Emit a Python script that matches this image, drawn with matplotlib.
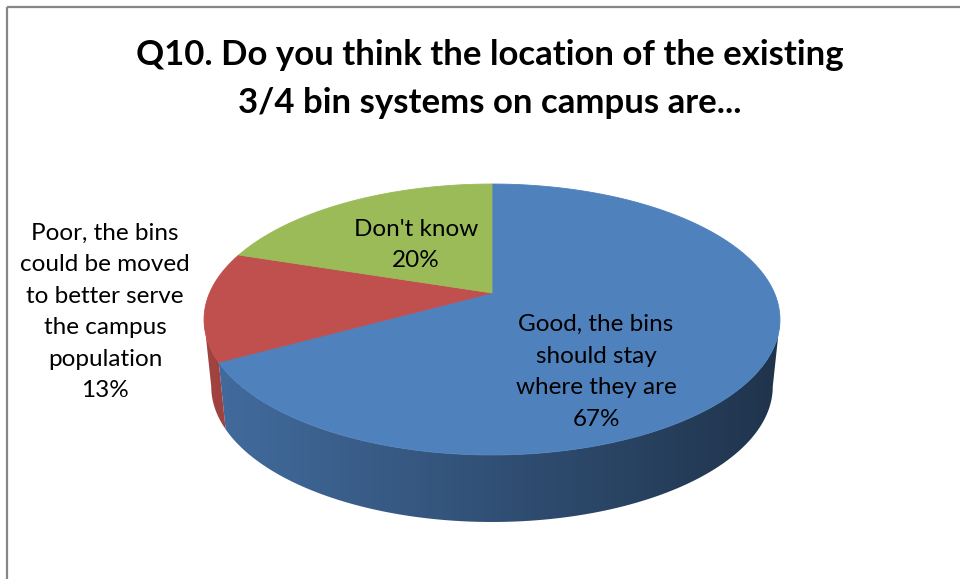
import numpy as np
import matplotlib
matplotlib.use('Agg')
import matplotlib.pyplot as plt
from matplotlib.patches import Polygon, Rectangle
from matplotlib.colors import to_rgb

title = 'Q10. Do you think the location of the existing\n3/4 bin systems on campus are...'
labels = ['Good, the bins\nshould stay\nwhere they are',
          'Poor, the bins\ncould be moved\nto better serve\nthe campus\npopulation',
          "Don't know"]
shares = [67, 13, 20]
colors = ['#4f81bd', '#c0504d', '#9bbb59']
labelPos = [(596, 372), (105, 312), (416, 245)]

W, H = 960, 579
# tilted disk seen in perspective, everything in pixel units
cx, cy = 492, 293
A, B, k = 282.4, 130.3, 0.1956
depth = 67
shrink = 0.975
frontHi, frontLo = -11.3, -168.7   # silhouette angles (deg)

def proj(deg):
    t = np.radians(deg)
    u, v = np.cos(t), np.sin(t)
    d = 1 + k*v
    return cx + A*u/d, cy - B*v/d

def arc(a0, a1, n=200):
    xs, ys = proj(np.linspace(a0, a1, n))
    return np.column_stack([xs, ys])

fig = plt.figure(figsize=(W/100, H/100), dpi=100)
ax = fig.add_axes([0, 0, 1, 1])
ax.axis('off')

# angles, clockwise from 12 o'clock
bounds = 90 - 360*np.cumsum([0] + shares)/sum(shares)

xl, xr = cx - A*1.02, cx + A*1.02
for i, col in enumerate(colors):
    start, end = bounds[i], bounds[i+1]
    hi, lo = min(start, frontHi), max(end, frontLo)
    if hi <= lo:
        continue
    top = arc(hi, lo)
    bot = top.copy()
    bot[:, 0] = cx + shrink*(bot[:, 0] - cx)
    bot[:, 1] += depth
    side = Polygon(np.vstack([top, bot[::-1]]), closed=True, fc='none', ec='none')
    ax.add_patch(side)
    # side shading darkens from left to right
    f = np.linspace(0.84, 0.40, 300)
    img = np.array(to_rgb(col))[None, None, :]*f[None, :, None]
    im = ax.imshow(img, extent=(xl, xr, cy + 300, cy - 50), aspect='auto',
                   interpolation='bilinear', zorder=1)
    im.set_clip_path(side)

for i, col in enumerate(colors):
    pts = np.vstack([[cx, cy], arc(bounds[i], bounds[i+1])])
    ax.add_patch(Polygon(pts, closed=True, fc=col, ec=col, lw=0.6, zorder=2))

for lab, s, (x, y) in zip(labels, shares, labelPos):
    ax.text(x, y, '%s\n%d%%' % (lab, s), ha='center', va='center',
            fontsize=17.5, family='Lato', color='black', linespacing=1.62, zorder=3)

ax.text(490, 79, title, ha='center', va='center', fontsize=25, family='Lato',
        fontweight='bold', linespacing=1.65, zorder=3)

ax.add_patch(Rectangle((7, 7), 2000, 2000, fill=False, ec='#878787', lw=1.6, zorder=4))

ax.set_xlim(0, W)
ax.set_ylim(H, 0)
fig.savefig('out.png', dpi=100, facecolor='white')
